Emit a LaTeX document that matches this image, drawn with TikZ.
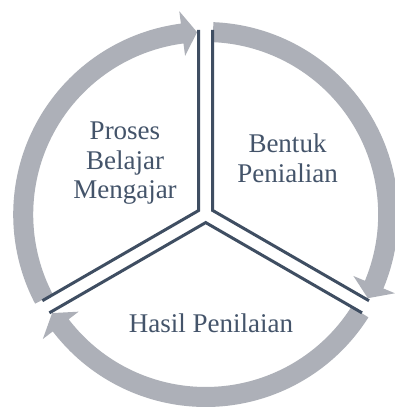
\documentclass[tikz,border=0pt]{standalone}
\usepackage{fontspec}
\setmainfont{Liberation Serif}
\usetikzlibrary{calc}
\definecolor{bandgray}{RGB}{173,176,184}
\definecolor{edgedark}{RGB}{63,78,98}
\definecolor{txt}{RGB}{68,84,106}
\tikzset{
  edge/.style={draw=edgedark, line width=3pt, line join=miter, line cap=butt},
  lbl/.style={text=txt, font=\fontsize{27}{29.5}\selectfont, align=center, inner sep=0pt},
}
% cycle arrow: #1 start angle, #2 head base angle, #3 tip angle
\newcommand{\cyclearrow}[3]{%
  \fill[bandgray] (#1:192.5pt) arc[start angle=#1, end angle=#2, radius=192.5pt]
    -- (#2:205pt) -- (#3:182.5pt) -- (#2:160pt) -- (#2:172.5pt)
    arc[start angle=#2, end angle=#1, radius=172.5pt] -- cycle;}
\begin{document}
\begin{tikzpicture}[x=1pt,y=1pt]
\useasboundingbox (-205.7,-193.5) rectangle (189.3,214.5);
\clip (-205.7,-193.5) rectangle (189.3,214.5);
\fill[white] (-205.7,-193.5) rectangle (189.3,214.5);
% arrows
\cyclearrow{207.6}{97.4}{92.7}
\cyclearrow{87.7}{-22.6}{-27.3}
\cyclearrow{-32.3}{-142.6}{-147.3}
% sector vertices
\coordinate (vp) at (-7,4.04);
\coordinate (vb) at (7,4.04);
\coordinate (vh) at (0,-8.08);
\draw[edge] ($(vp)+(90:180.5pt)$) -- (vp) -- ($(vp)+(210:180.5pt)$);
\draw[edge] ($(vb)+(90:180.5pt)$) -- (vb) -- ($(vb)+(-30:180.5pt)$);
\draw[edge] ($(vh)+(-30:180.5pt)$) -- (vh) -- ($(vh)+(210:180.5pt)$);
% labels
\node[lbl, anchor=north] (proses) at (-80.7,92.5) {Proses\\Belajar\\Mengajar};
\node[lbl, anchor=north] (bentuk) at (81.8,80.9) {Bentuk\\Penialian};
\node[lbl, anchor=base] (hasil) at (5.3,-117.5) {Hasil Penilaian};
\end{tikzpicture}
\end{document}
